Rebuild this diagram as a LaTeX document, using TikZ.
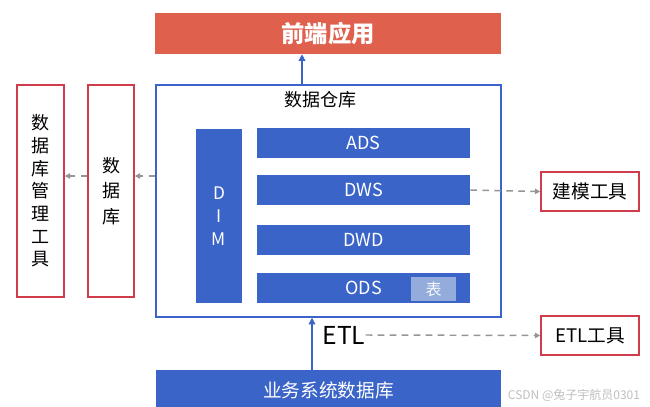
\documentclass[tikz,border=0pt]{standalone}
\usepackage{fontspec}
\setmainfont{Noto Sans CJK SC}
\usetikzlibrary{arrows.meta}

\definecolor{appred}{HTML}{E0604E}
\definecolor{layerblue}{HTML}{3A64C8}
\definecolor{edgered}{HTML}{D03C4C}
\definecolor{paleblue}{HTML}{93ACDC}
\definecolor{linkgray}{HTML}{959595}

\tikzset{
	bluebar/.style={fill=layerblue, text=white, inner sep=0pt},
	toolbox/.style={draw=edgered, line width=1.1pt, fill=white, inner sep=0pt},
	vtext/.style={align=center, font=\fontsize{13.5}{17}\selectfont},
	uparrow/.style={draw=layerblue, line width=1pt, -{Triangle[length=5pt,width=5pt]}},
	dasharrow/.style={draw=linkgray, line width=1.1pt, dash pattern=on 5pt off 4pt, -{Triangle[length=4pt,width=4pt]}}
}

\begin{document}
\begin{tikzpicture}[x=0.75pt, y=-0.75pt]
			\useasboundingbox (0,0) rectangle (650,407);

			% front end on top
			\node[fill=appred, text=white, minimum width=346*0.75pt, minimum height=41*0.75pt, inner sep=0pt,
				font=\bfseries\fontsize{17.5}{19}\selectfont] (front) at (328,33.5) {前端应用};

			% warehouse frame
			\node[draw=layerblue, line width=1.1pt, minimum width=345*0.75pt, minimum height=232*0.75pt, inner sep=0pt] (wh) at (328.5,201) {};
			\node[font=\fontsize{13.5}{15}\selectfont] (whlabel) at (320.5,100) {数据仓库};

			% layers
			\node[bluebar, minimum width=46*0.75pt, minimum height=174*0.75pt, vtext, font=\fontsize{13}{17.3}\selectfont] (dim) at (219,216) {D\\I\\M};
			\node[bluebar, minimum width=213*0.75pt, minimum height=30*0.75pt, font=\fontsize{13.5}{15}\selectfont] (ads) at (363.5,142.5) {ADS};
			\node[bluebar, minimum width=213*0.75pt, minimum height=30*0.75pt, font=\fontsize{13.5}{15}\selectfont] (dws) at (363.5,190)   {DWS};
			\node[bluebar, minimum width=213*0.75pt, minimum height=30*0.75pt, font=\fontsize{13.5}{15}\selectfont] (dwd) at (363.5,239.5) {DWD};
			\node[bluebar, minimum width=213*0.75pt, minimum height=30*0.75pt, font=\fontsize{13.5}{15}\selectfont] (ods) at (363.5,288)   {ODS};
			\node[fill=paleblue, text=white!92!paleblue, minimum width=45*0.75pt, minimum height=24*0.75pt, inner sep=0pt,
				font=\fontsize{12}{13}\selectfont] (tbl) at (433.5,289) {表};

			% left side
			\node[toolbox, minimum width=47*0.75pt, minimum height=212*0.75pt, vtext] (dbtool) at (40.5,191) {数\\据\\库\\管\\理\\工\\具};
			\node[toolbox, minimum width=46*0.75pt, minimum height=212*0.75pt, vtext, font=\fontsize{13.5}{19}\selectfont] (db) at (111,191) {数\\据\\库};

			% right side
			\node[toolbox, minimum width=98*0.75pt, minimum height=39*0.75pt, font=\fontsize{14}{16}\selectfont] (model) at (590,191.5) {建模工具};
			\node[toolbox, minimum width=98*0.75pt, minimum height=39*0.75pt, font=\fontsize{14}{16}\selectfont] (etltool) at (590,335.5) {ETL工具};

			% source at the bottom
			\node[bluebar, minimum width=345*0.75pt, minimum height=40*0.75pt, font=\fontsize{14}{16}\selectfont] (src) at (328.5,390) {业务系统数据库};
			\node[inner sep=0pt, font=\fontsize{18.5}{20}\selectfont] (etl) at (344,335) {ETL};
			\node[text=black!25, inner sep=0pt, font=\fontsize{9}{10}\selectfont] (mark) at (574,395) {CSDN @兔子宇航员0301};

			% links
			\coordinate (upx) at (302,0);
			\coordinate (inx) at (312,0);
			\coordinate (lefty) at (0,176);
			\draw[uparrow] (wh.north -| upx) -- (front.south -| upx);
			\draw[uparrow] (src.north -| inx) -- (wh.south -| inx);
			\draw[dasharrow] (wh.west |- lefty) -- (db.east |- lefty);
			\draw[dasharrow] (db.west |- lefty) -- (dbtool.east |- lefty);
			\draw[dasharrow] (dws.east) -- (model.west);
			\draw[dasharrow] (etl.east) -- (etltool.west);
		\end{tikzpicture}
\end{document}
